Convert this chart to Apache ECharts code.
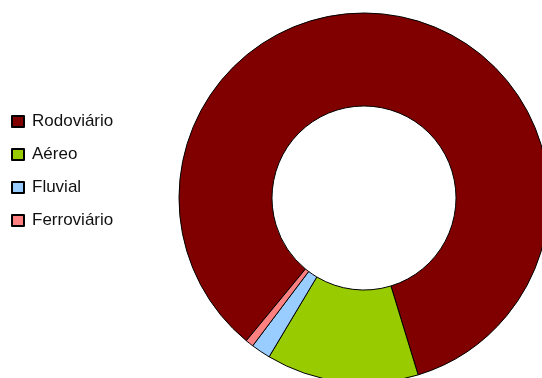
<!DOCTYPE html>
<html>
<head>
<meta charset="utf-8">
<script src="https://cdn.jsdelivr.net/npm/echarts@6/dist/echarts.min.js"></script>
<style>
  html, body { margin: 0; padding: 0; background: #fff; }
  #chart { width: 542px; height: 378px; }
</style>
</head>
<body>
<div id="chart"></div>
<script>
// dados do gráfico
var modais = ['Rodoviário', 'Aéreo', 'Fluvial', 'Ferroviário'];
var valores = [84.3, 13.3, 1.7, 0.7];
var cores = ['#800000', '#99cc00', '#99ccff', '#ff8080'];

var myChart = echarts.init(document.getElementById('chart'));

var dados = modais.map(function (nome, i) {
    return { name: nome, value: valores[i], itemStyle: { color: cores[i] } };
});

myChart.setOption({
    animation: false,
    legend: {
        orient: 'vertical',
        left: 11,
        top: 113,
        padding: 0,
        icon: 'rect',
        itemWidth: 12,
        itemHeight: 11,
        itemGap: 16,
        textStyle: {
            fontFamily: 'Liberation Sans',
            fontSize: 17,
            lineHeight: 17,
            color: '#111',
            padding: [0, 0, 0, 3]
        },
        data: modais
    },
    series: [
        {
            type: 'pie',
            center: [364, 198],
            radius: [92, 185],
            startAngle: 230.5,
            clockwise: true,
            label: { show: false },
            labelLine: { show: false },
            emphasis: { disabled: true },
            itemStyle: {
                borderColor: '#000',
                borderWidth: 1
            },
            data: dados
        }
    ]
});
</script>
</body>
</html>
